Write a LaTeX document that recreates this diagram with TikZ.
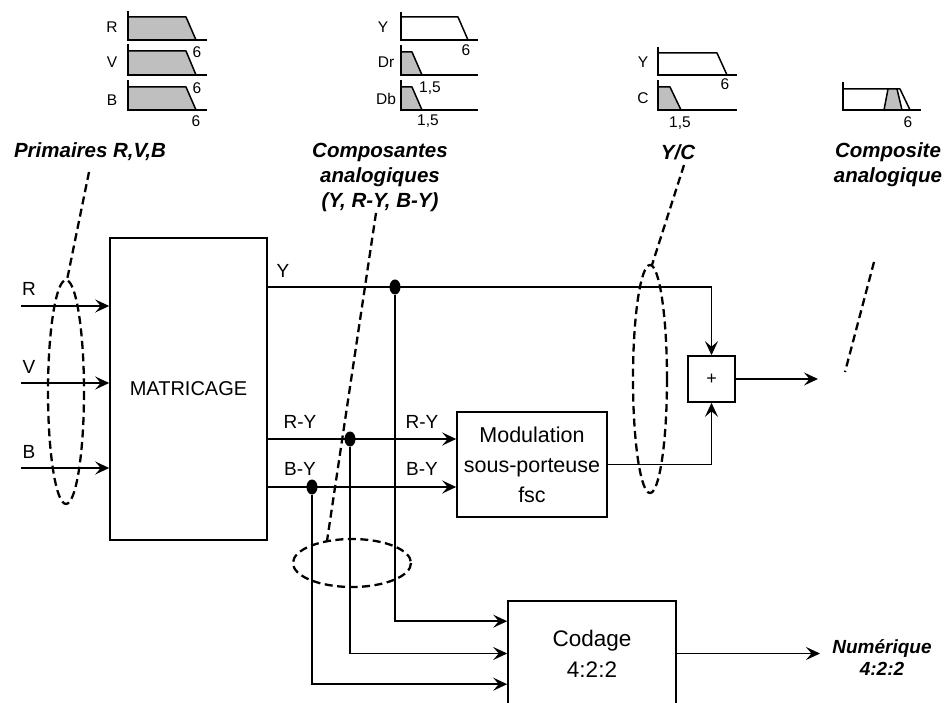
\documentclass[tikz,border=0pt]{standalone}
\usepackage{fontspec}
\setmainfont{Liberation Sans}
\usetikzlibrary{arrows.meta, calc, positioning, shapes.geometric}

\begin{document}
\begin{tikzpicture}[
    x=1pt, y=-1pt,
    font=\fontsize{19}{22}\selectfont,
    wire/.style={line width=1.6pt},
    flow/.style={wire, -{Stealth[length=14pt,width=13pt,inset=5.5pt]}},
    block/.style={draw, line width=1.6pt, inner sep=0pt, align=center,
        font=\fontsize{21.5}{30}\selectfont},
    junction/.style={ellipse, fill, inner sep=0pt, minimum width=11pt, minimum height=15pt},
    group/.style={line width=2.3pt, dash pattern=on 8pt off 4.5pt},
    tag/.style={font=\fontsize{20.5}{25}\selectfont\bfseries\itshape, align=center},
    axes/.style={line width=1.6pt},
    band/.style={fill=black!25, draw, line width=1.5pt, line join=round},
    envelope/.style={draw, line width=1.5pt, line join=round},
    small/.style={font=\fontsize{15.5}{17}\selectfont, inner sep=0pt}
]
\useasboundingbox (0,0) rectangle (951,703);
\clip (0,0) rectangle (951,703);

% spectres : primaires R, V, B
\fill[band] (128,40) -- (128,17) -- (186,17) -- (196,40) -- cycle;
\draw[axes] (128,11) -- (128,40) -- (207,40);
\fill[band] (128,75) -- (128,51) -- (186,51) -- (196,75) -- cycle;
\draw[axes] (128,44) -- (128,75) -- (207,75);
\fill[band] (128,110) -- (128,87) -- (186,87) -- (196,110) -- cycle;
\draw[axes] (128,80) -- (128,110) -- (207,110);
\node[small] at (112,27) {R};
\node[small] at (112,62) {V};
\node[small] at (112,100) {B};
\node[small] at (197,52) {6};
\node[small] at (197,88) {6};
\node[small] at (196,121) {6};

% spectres : composantes Y, Dr, Db
\draw[envelope] (401,40) -- (401,17) -- (458,17) -- (468,40);
\draw[axes] (401,12) -- (401,40) -- (478,40);
\fill[band] (401,75) -- (401,52) -- (412,52) -- (422,75) -- cycle;
\draw[axes] (401,45) -- (401,75) -- (478,75);
\fill[band] (401,110) -- (401,87) -- (412,87) -- (422,110) -- cycle;
\draw[axes] (401,80) -- (401,110) -- (478,110);
\node[small] at (383,27) {Y};
\node[small] at (386,62) {Dr};
\node[small] at (386,99) {Db};
\node[small] at (466,50) {6};
\node[small] at (430,88) {1,5};
\node[small] at (428,121) {1,5};

% spectres : Y/C
\draw[envelope] (658,75) -- (658,53) -- (717,53) -- (727,75);
\draw[axes] (658,47) -- (658,75) -- (737,75);
\fill[band] (658,110) -- (658,87) -- (670,87) -- (681,110) -- cycle;
\draw[axes] (658,80) -- (658,110) -- (737,110);
\node[small] at (643,62) {Y};
\node[small] at (643,98) {C};
\node[small] at (725,84) {6};
\node[small] at (680,123) {1,5};

% spectre : composite
\draw[envelope] (843,110) -- (843,89) -- (900,89) -- (910,110);
\fill[band] (884,110) -- (888,89) -- (897,89) -- (902,110) -- cycle;
\draw[axes] (843,82) -- (843,110) -- (921,110);
\node[small] at (908,122) {6};

% titres
\node[tag] (tprim) at (90,152) {Primaires R,V,B};
\node[tag] (tcomp) at (380,177) {Composantes\\analogiques\\(Y, R-Y, B-Y)};
\node[tag] (tyc) at (678,152) {Y/C};
\node[tag] (tcps) at (888,165) {Composite\\analogique};

% blocs
\node[block, minimum width=157pt, minimum height=302pt,
    font=\fontsize{20}{24}\selectfont] (matr) at (188.5,389) {MATRICAGE};
\node[block, minimum width=150pt, minimum height=105pt] (modu) at (532,464.5)
    {Modulation\\sous-porteuse\\fsc};
\node[block, minimum width=47pt, minimum height=46pt,
    font=\fontsize{18}{20}\selectfont] (plus) at (711.5,379) {+};
\node[block, minimum width=168pt, minimum height=105pt,
    font=\fontsize{22.5}{31}\selectfont] (coda) at (592,653.5) {Codage\\4:2:2};

% entrees
\coordinate (rin) at (21,306);
\coordinate (vin) at (21,383);
\coordinate (bin) at (21,468);
\draw[flow] (rin) -- (rin -| matr.west);
\draw[flow] (vin) -- (vin -| matr.west);
\draw[flow] (bin) -- (bin -| matr.west);
\node at (29,289) {R};
\node at (29,367) {V};
\node at (29,452) {B};

% sorties du matricage
\coordinate (yo) at (267,287);
\coordinate (ryo) at (267,439);
\coordinate (byo) at (267,487);
\node[junction] (jy) at (395,287) {};
\node[junction] (jry) at (350,439) {};
\node[junction] (jby) at (312,487) {};
\draw[flow] (yo) -| (plus.north);
\draw[flow] (ryo) -- (ryo -| modu.west);
\draw[flow] (byo) -- (byo -| modu.west);
\draw[flow] (jy) |- ($(coda.north west)+(0,21)$);
\draw[flow] (jry) |- (coda.west);
\draw[flow] (jby) |- ($(coda.north west)+(0,84)$);
\node at (283,271) {Y};
\node at (300,422) {R-Y};
\node at (422,422) {R-Y};
\node at (300,469) {B-Y};
\node at (422,469) {B-Y};

% somme et sorties
\draw[flow] (modu.east) -| (plus.south);
\coordinate (cps) at (818,379);
\draw[flow] (plus.east) -- (cps);
\coordinate (num) at (820,653.5);
\draw[flow] (coda.east) -- (num);
\node[tag, font=\fontsize{19}{22}\selectfont\bfseries\itshape] at (882,658)
    {Numérique\\4:2:2};

% regroupements en pointille
\draw[group] (66,392) ellipse [x radius=18, y radius=112];
\draw[group] (89,172) -- (67,280);
\draw[group] (352,563) ellipse [x radius=59, y radius=24];
\draw[group] (376,213) -- (327,541);
\draw[group] (650,379) ellipse [x radius=17, y radius=114];
\draw[group] (684,165) -- (652,265);
\draw[group] (874,262) -- (845,372);
\end{tikzpicture}
\end{document}
